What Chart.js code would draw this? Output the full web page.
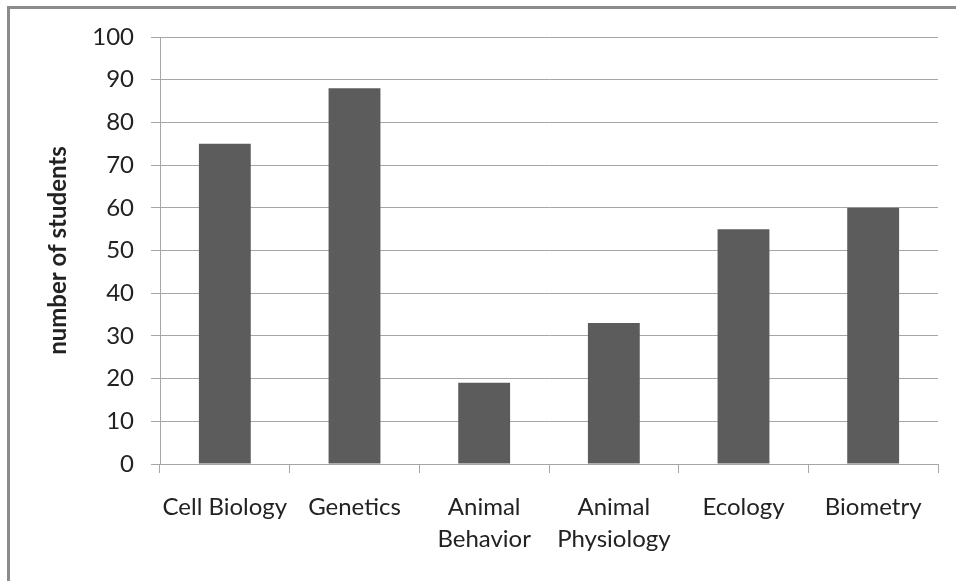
<!DOCTYPE html>
<html>
<head>
<meta charset="utf-8">
<script src="https://cdn.jsdelivr.net/npm/chart.js@4/dist/chart.umd.min.js"></script>
<style>
  html, body { margin: 0; padding: 0; background: #fff; overflow: hidden; }
  #wrap { position: relative; width: 956px; height: 581px; }
  #frame {
    position: absolute; left: 7px; top: 6px; width: 1000px; height: 1000px;
    border-left: 3px solid #8c8c8c; border-top: 3px solid #8c8c8c;
    box-sizing: border-box; pointer-events: none;
  }
  canvas { position: absolute; left: 0; top: 0; }
</style>
</head>
<body>
<div id="wrap">
  <canvas id="chart" width="956" height="581"></canvas>
  <div id="frame"></div>
</div>
<script>
// Enrollment per course
const courses = [
  'Cell Biology',
  'Genetics',
  ['Animal', 'Behavior'],
  ['Animal', 'Physiology'],
  'Ecology',
  'Biometry'
];
const students = [75, 88, 19, 33, 55, 60];
const yTicks = [0, 10, 20, 30, 40, 50, 60, 70, 80, 90, 100];

const FONT = 'Lato, "Open Sans", sans-serif';
const TEXT = '#222222';
const GRID = '#a6a6a6';

new Chart(document.getElementById('chart'), {
  type: 'bar',
  data: {
    labels: courses,
    datasets: [{
      label: 'number of students',
      data: students,
      backgroundColor: '#5c5c5c',
      borderWidth: 0,
      barPercentage: 0.4,
      categoryPercentage: 1.0
    }]
  },
  options: {
    responsive: false,
    animation: false,
    layout: { padding: { top: 37, right: 18, left: 0, bottom: 0 } },
    plugins: { legend: { display: false }, tooltip: { enabled: false } },
    scales: {
      x: {
        offset: true,
        grid: {
          offset: true,
          drawOnChartArea: false,
          drawTicks: true,
          tickLength: 9,
          color: GRID,
          lineWidth: 1
        },
        border: { display: true, color: GRID, width: 1 },
        ticks: {
          color: TEXT,
          font: { family: FONT, size: 24, lineHeight: 1.33 },
          padding: 18,
          maxRotation: 0,
          autoSkip: false
        },
        afterFit: s => { s.height = 581 - 464; }
      },
      y: {
        min: 0,
        max: 100,
        afterBuildTicks: s => { s.ticks = yTicks.map(v => ({ value: v })); },
        grid: {
          color: GRID,
          lineWidth: 1,
          drawTicks: true,
          tickLength: 9
        },
        border: { display: true, color: GRID, width: 1 },
        ticks: {
          color: TEXT,
          font: { family: FONT, size: 24 },
          padding: 17
        },
        title: {
          display: true,
          text: 'number of students',
          color: TEXT,
          font: { family: FONT, size: 24, weight: 'bold', lineHeight: 1.2 },
          padding: { top: 44, bottom: 0 }
        },
        afterFit: s => { s.width = 160; }
      }
    }
  }
});
</script>
</body>
</html>
